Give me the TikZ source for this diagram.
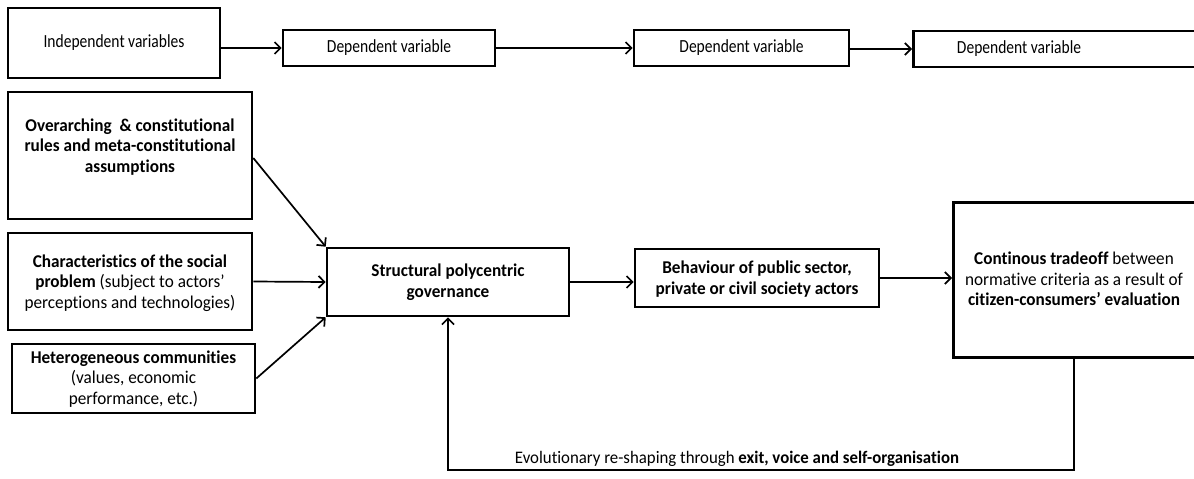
\documentclass[tikz,border=0pt]{standalone}
\usepackage{fontspec}
\setmainfont{Carlito}[FakeStretch=0.955,RawFeature={-liga;-calt;-clig;-dlig}]
\newfontfamily\topfont{Carlito}[FakeStretch=0.84,RawFeature={-liga;-calt;-clig;-dlig}]
\usetikzlibrary{arrows.meta,calc}
\tikzset{
  box/.style={draw=black, line width=2.6pt, fill=none, inner sep=0pt},
  txt/.style={align=center, font=\fontsize{18}{20.5}\selectfont, inner sep=0pt},
  toptxt/.style={align=center, font=\topfont\fontsize{18.5}{20.5}\selectfont, inner sep=0pt},
  arr/.style={line width=1.7pt, -{Straight Barb[length=6pt,width=12pt,line width=1.7pt]}},
}
\begin{document}
\begin{tikzpicture}[x=1pt,y=-1pt]
\useasboundingbox (0,0) rectangle (1194,479);
\clip (0,0) rectangle (1194,479);
% top row
\node[box, minimum width=212, minimum height=70] (ind) at (114,43) {};
\node[toptxt] (indt) at (114,43) {Independent variables};
\node[box, minimum width=212, minimum height=36] (d1) at (389,48) {};
\node[toptxt] (d1t) at (389,48) {Dependent variable};
\node[box, minimum width=215, minimum height=36] (d2) at (741.5,48) {};
\node[toptxt] (d2t) at (741.5,48) {Dependent variable};
\node[box, minimum width=290, minimum height=36, anchor=west] (d3) at (912,49) {};
\node[toptxt] (d3t) at (1019,49) {Dependent variable};
% left column
\node[box, minimum width=244, minimum height=127] (over) at (130,155.5) {};
\node[txt, font=\fontsize{18}{20.5}\selectfont\bfseries] (overt) at (130,147) {Overarching \ \& constitutional\\rules and meta-constitutional\\assumptions};
\node[box, minimum width=244, minimum height=97] (char) at (130,281.5) {};
\node[txt] (chart) at (130,283) {\textbf{Characteristics of the social}\\\textbf{problem} (subject to actors'\\perceptions and technologies)};
\node[box, minimum width=243, minimum height=69] (het) at (133.5,378.5) {};
\node[txt] (hett) at (133.5,379) {\textbf{Heterogeneous communities}\\(values, economic\\performance, etc.)};
% middle
\node[box, minimum width=242, minimum height=68] (struct) at (448,282) {};
\node[txt, font=\fontsize{18}{20.5}\selectfont\bfseries] (structt) at (448,282) {Structural polycentric\\governance};
\node[box, minimum width=244, minimum height=58] (beh) at (757,278) {};
\node[txt, font=\fontsize{18}{20.5}\selectfont\bfseries] (beht) at (757,279) {Behaviour of public sector,\\private or civil society actors};
\node[box, minimum width=250, minimum height=155, anchor=north west] (cont) at (952,201) {};
\node[txt] (contt) at (1074,279) {\textbf{Continous tradeoff} between\\normative criteria as a result of\\\textbf{citizen-consumers' evaluation}};
% arrows
\draw[arr] (ind.east |- d1.west) -- (d1.west);
\draw[arr] (d1.east) -- (d2.west);
\draw[arr] (d2.east |- d3.west) -- (d3.west);
\draw[arr] ($(over.east)+(0,2.5)$) -- (struct.north west);
\draw[arr] (char.east) -- (struct.west);
\draw[arr] (het.east) -- (struct.south west);
\draw[arr] (struct.east) -- (struct.east -| beh.west);
\draw[arr] (beh.east) -- (beh.east -| cont.west);
\coordinate (fb) at (1074,470);
\draw[arr] (cont.south -| fb) -- (fb) -- (fb -| struct.south) -- (struct.south);
\node[txt, font=\fontsize{17.6}{20}\selectfont] (fbt) at (737,459) {Evolutionary re-shaping through \textbf{exit, voice and self-organisation}};
\end{tikzpicture}
\end{document}
